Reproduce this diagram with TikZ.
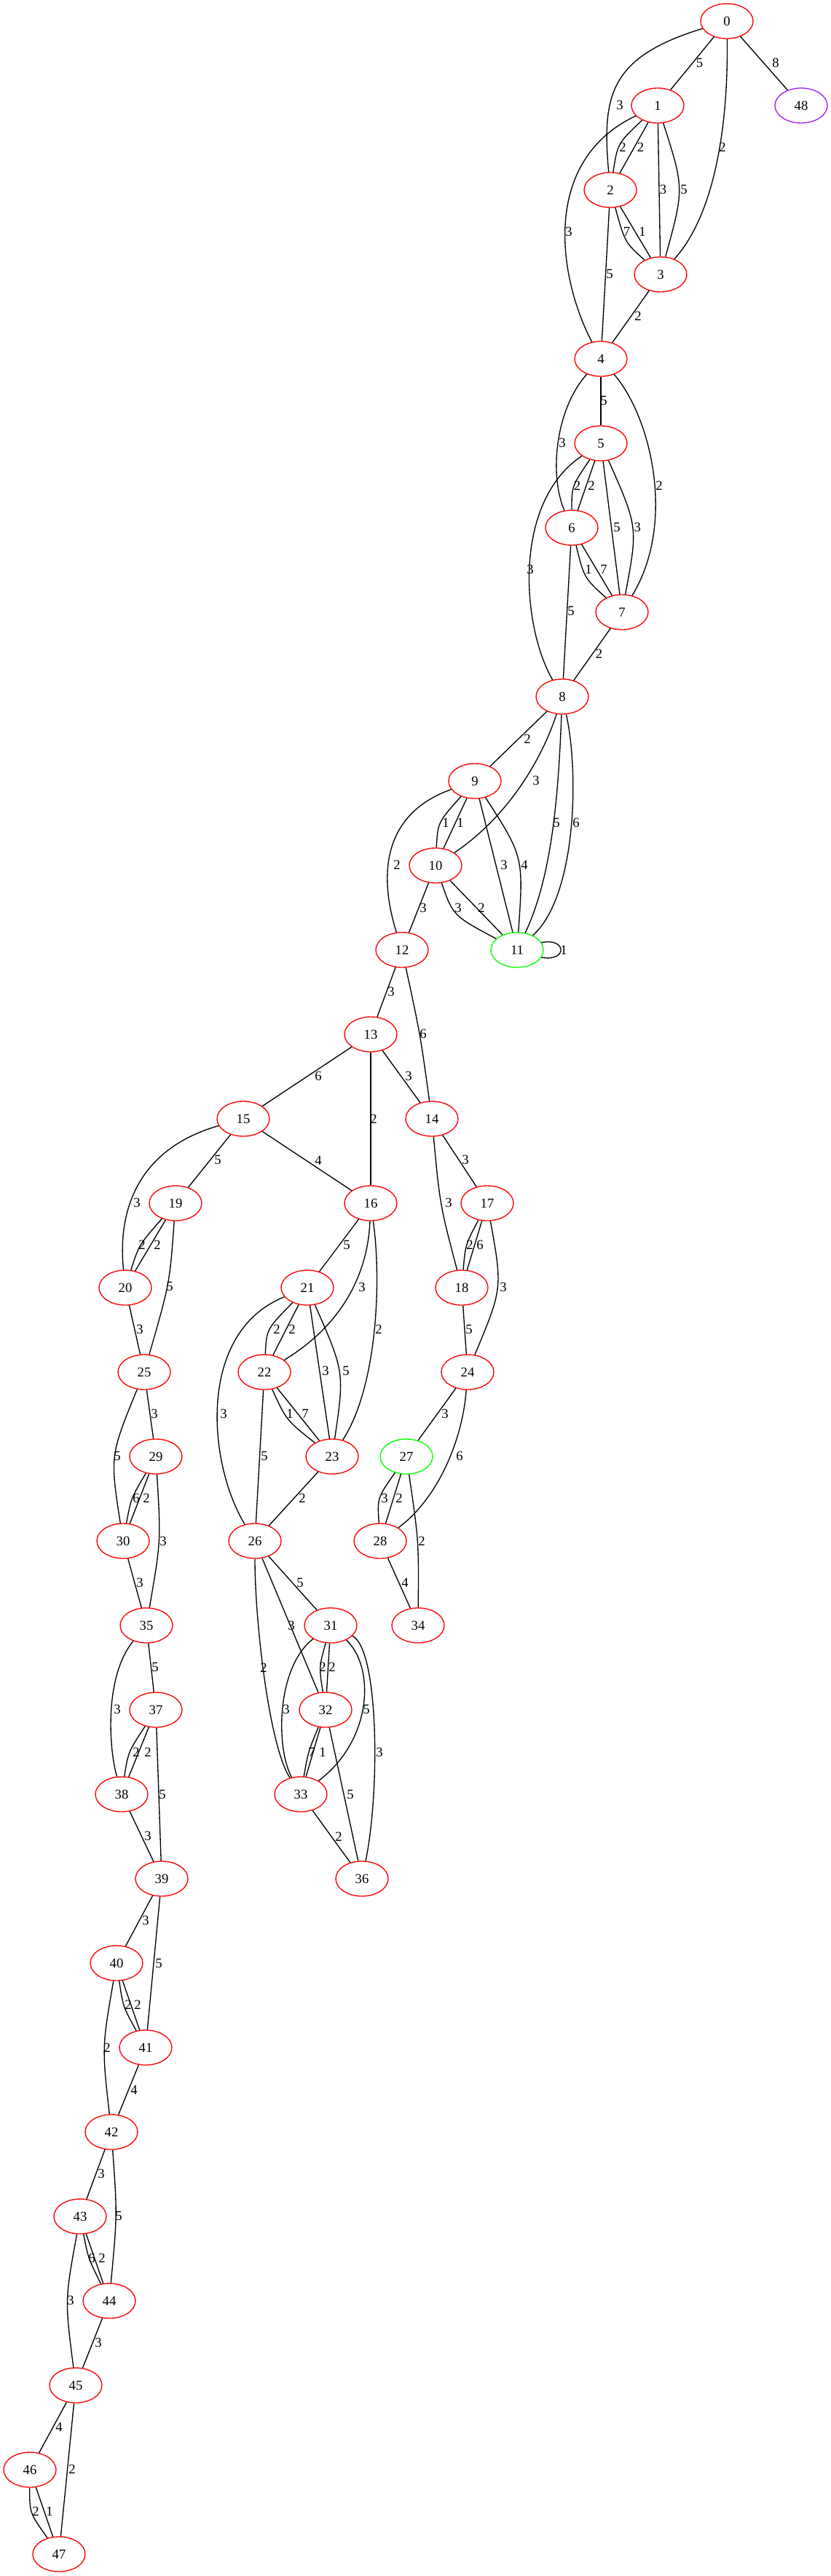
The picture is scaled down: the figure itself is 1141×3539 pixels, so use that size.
\documentclass[tikz,border=0pt]{standalone}
\usepackage{fontspec}
\setmainfont{Liberation Serif}
\usetikzlibrary{shapes.geometric}
\definecolor{gvred}{RGB}{255,0,0}
\definecolor{gvgreen}{RGB}{0,255,0}
\definecolor{gvpurple}{RGB}{160,32,240}
\begin{document}
\begin{tikzpicture}[x=0.75pt,y=-0.75pt,
  gn/.style={ellipse,draw=gvred,line width=1pt,minimum width=54pt,minimum height=36pt,inner sep=0pt,font=\fontsize{14}{16}\selectfont},
  gg/.style={gn,draw=gvgreen},
  gp/.style={gn,draw=gvpurple},
  con/.style={draw=black,line width=1pt},
  lab/.style={inner sep=0pt,font=\fontsize{14}{16}\selectfont}]
\useasboundingbox (0,0) rectangle (1141,3539);
% nodes
\node[gn] (n0) at (998,29) {0};
\node[gn] (n1) at (903,145) {1};
\node[gp] (n48) at (1100,145) {48};
\node[gn] (n2) at (838,261) {2};
\node[gn] (n3) at (907,377) {3};
\node[gn] (n4) at (825,493) {4};
\node[gn] (n5) at (825,609) {5};
\node[gn] (n6) at (785,725) {6};
\node[gn] (n7) at (854,841) {7};
\node[gn] (n8) at (772,957) {8};
\node[gn] (n9) at (652,1073) {9};
\node[gn] (n10) at (598,1189) {10};
\node[gg] (n11) at (710,1305) {11};
\node[gn] (n12) at (552,1305) {12};
\node[gn] (n13) at (509,1421) {13};
\node[gn] (n14) at (593,1537) {14};
\node[gn] (n15) at (334,1537) {15};
\node[gn] (n16) at (509,1653) {16};
\node[gn] (n17) at (669,1653) {17};
\node[gn] (n19) at (241,1653) {19};
\node[gn] (n18) at (634,1769) {18};
\node[gn] (n20) at (172,1769) {20};
\node[gn] (n21) at (422,1769) {21};
\node[gn] (n22) at (363,1885) {22};
\node[gn] (n24) at (642,1885) {24};
\node[gn] (n25) at (198,1885) {25};
\node[gn] (n23) at (456,2001) {23};
\node[gg] (n27) at (558,2001) {27};
\node[gn] (n29) at (214,2001) {29};
\node[gn] (n26) at (350,2117) {26};
\node[gn] (n28) at (522,2117) {28};
\node[gn] (n30) at (169,2117) {30};
\node[gn] (n31) at (454,2233) {31};
\node[gn] (n34) at (574,2233) {34};
\node[gn] (n35) at (201,2233) {35};
\node[gn] (n32) at (447,2349) {32};
\node[gn] (n37) at (214,2349) {37};
\node[gn] (n33) at (413,2465) {33};
\node[gn] (n38) at (167,2465) {38};
\node[gn] (n36) at (497,2581) {36};
\node[gn] (n39) at (222,2581) {39};
\node[gn] (n40) at (160,2697) {40};
\node[gn] (n41) at (200,2813) {41};
\node[gn] (n42) at (153,2929) {42};
\node[gn] (n43) at (110,3045) {43};
\node[gn] (n44) at (150,3161) {44};
\node[gn] (n45) at (104,3277) {45};
\node[gn] (n46) at (41,3393) {46};
\node[gn] (n47) at (81,3509) {47};
% edges
\draw[con] (n0) -- (n1) node[lab] (e1) at (960.6,86) {5};
\draw[con] (n0) -- (n48) node[lab] (e2) at (1065,86) {8};
\draw[con] (n0) .. controls (838,78) and (826,130) .. (n2) node[lab] (e3) at (851,144) {3};
\draw[con] (n0) .. controls (1000,160) and (985,290) .. (n3) node[lab] (e4) at (992,202) {2};
\draw[con] (n1) .. controls (848,197) .. (n2) node[lab] (e5) at (855,202) {2};
\draw[con] (n1) -- (n2) node[lab] (e6) at (879.5,202) {2};
\draw[con] (n1) -- (n3) node[lab] (e7) at (910.6,260) {3};
\draw[con] (n1) .. controls (939.5,259) .. (n3) node[lab] (e8) at (939,260) {5};
\draw[con] (n1) .. controls (740,222) and (768,385) .. (n4) node[lab] (e9) at (781,318) {3};
\draw[con] (n2) .. controls (858,333) .. (n3) node[lab] (e10) at (860.5,318) {7};
\draw[con] (n2) -- (n3) node[lab] (e11) at (882,318) {1};
\draw[con] (n2) -- (n4) node[lab] (e12) at (837,376) {5};
\draw[con] (n3) -- (n4) node[lab] (e13) at (876,434) {2};
\draw[con] (n4) -- (n5) node[lab] (e14) at (829,550) {5};
\draw[con] (n4) .. controls (764,560) and (753,650) .. (n6) node[lab] (e15) at (772,608) {3};
\draw[con] (n4) .. controls (895,575) and (928,720) .. (n7) node[lab] (e16) at (905,667) {2};
\draw[con] (n5) .. controls (785,668) .. (n6) node[lab] (e17) at (792.5,667) {2};
\draw[con] (n5) -- (n6) node[lab] (e18) at (812,667) {2};
\draw[con] (n5) -- (n7) node[lab] (e19) at (847,724) {5};
\draw[con] (n5) .. controls (876,724) .. (n7) node[lab] (e20) at (875.4,724) {3};
\draw[con] (n5) .. controls (703.5,690) and (716,860) .. (n8) node[lab] (e21) at (728,782) {3};
\draw[con] (n6) .. controls (802,794) .. (n7) node[lab] (e22) at (808,782) {1};
\draw[con] (n6) -- (n7) node[lab] (e23) at (829,782) {7};
\draw[con] (n6) -- (n8) node[lab] (e24) at (784,839) {5};
\draw[con] (n7) -- (n8) node[lab] (e25) at (822.6,898) {2};
\draw[con] (n8) -- (n9) node[lab] (e26) at (724,1015) {2};
\draw[con] (n8) .. controls (745,1040) and (700,1120) .. (n10) node[lab] (e27) at (736,1072) {3};
\draw[con] (n8) .. controls (767,1080) and (760,1200) .. (n11) node[lab] (e28) at (764,1130) {5};
\draw[con] (n8) .. controls (795,1060) and (792,1230) .. (n11) node[lab] (e29) at (791,1130) {6};
\draw[con] (n9) .. controls (601,1130) .. (n10) node[lab] (e30) at (612,1130) {1};
\draw[con] (n9) -- (n10) node[lab] (e31) at (632,1130) {1};
\draw[con] (n9) .. controls (520,1120) and (522,1210) .. (n12) node[lab] (e32) at (545,1188) {2};
\draw[con] (n9) -- (n11) node[lab] (e33) at (692,1188) {3};
\draw[con] (n9) .. controls (719,1177) .. (n11) node[lab] (e34) at (720,1188) {4};
\draw[con] (n10) -- (n12) node[lab] (e35) at (581,1247) {3};
\draw[con] (n10) .. controls (622,1258) .. (n11) node[lab] (e36) at (629,1247) {3};
\draw[con] (n10) -- (n11) node[lab] (e37) at (661,1247) {2};
\draw[con] (n11.17) .. controls (779,1288) and (779,1322) .. (n11.343) node[lab] (e38) at (774,1305) {1};
\draw[con] (n12) -- (n13) node[lab] (e39) at (537,1362) {3};
\draw[con] (n12) .. controls (577,1421) .. (n14) node[lab] (e40) at (581,1420) {6};
\draw[con] (n13) -- (n15) node[lab] (e41) at (437,1478) {6};
\draw[con] (n13) -- (n16) node[lab] (e42) at (513,1537) {2};
\draw[con] (n13) -- (n14) node[lab] (e43) at (561,1478) {3};
\draw[con] (n14) .. controls (604,1655) .. (n18) node[lab] (e44) at (616,1652) {3};
\draw[con] (n14) -- (n17) node[lab] (e45) at (639,1593) {3};
\draw[con] (n15) -- (n16) node[lab] (e46) at (437,1594) {4};
\draw[con] (n15) -- (n19) node[lab] (e47) at (299,1593) {5};
\draw[con] (n15) .. controls (200,1575) and (160,1650) .. (n20) node[lab] (e48) at (188,1652) {3};
\draw[con] (n16) -- (n21) node[lab] (e49) at (476,1710) {5};
\draw[con] (n16) .. controls (505,1750) and (470,1820) .. (n22) node[lab] (e50) at (497,1768) {3};
\draw[con] (n16) .. controls (524,1760) and (518,1905) .. (n23) node[lab] (e51) at (520,1826) {2};
\draw[con] (n17) .. controls (639,1710) .. (n18) node[lab] (e52) at (645,1710) {2};
\draw[con] (n17) -- (n18) node[lab] (e53) at (659,1710) {6};
\draw[con] (n17) .. controls (690,1770) .. (n24) node[lab] (e54) at (691,1768) {3};
\draw[con] (n18) -- (n24) node[lab] (e55) at (644,1826) {5};
\draw[con] (n19) .. controls (191,1710) .. (n20) node[lab] (e56) at (195,1710) {2};
\draw[con] (n19) -- (n20) node[lab] (e57) at (216,1710) {2};
\draw[con] (n19) .. controls (233,1763) .. (n25) node[lab] (e58) at (233,1767) {5};
\draw[con] (n20) -- (n25) node[lab] (e59) at (192,1826) {3};
\draw[con] (n21) .. controls (366,1826) .. (n22) node[lab] (e60) at (380,1826) {2};
\draw[con] (n21) -- (n22) node[lab] (e61) at (401,1826) {2};
\draw[con] (n21) .. controls (270,1830) and (285,2010) .. (n26) node[lab] (e62) at (307,1942) {3};
\draw[con] (n21) -- (n23) node[lab] (e63) at (447,1883) {3};
\draw[con] (n21) .. controls (473,1885) .. (n23) node[lab] (e64) at (475,1883) {5};
\draw[con] (n22) .. controls (393,1951) .. (n23) node[lab] (e65) at (398,1942) {1};
\draw[con] (n22) -- (n23) node[lab] (e66) at (419,1942) {7};
\draw[con] (n22) -- (n26) node[lab] (e67) at (363,2000) {5};
\draw[con] (n23) -- (n26) node[lab] (e68) at (415,2058) {2};
\draw[con] (n24) -- (n27) node[lab] (e69) at (611,1942) {3};
\draw[con] (n24) .. controls (635,1980) and (600,2060) .. (n28) node[lab] (e70) at (631,2000) {6};
\draw[con] (n25) .. controls (151,2000) .. (n30) node[lab] (e71) at (161,2000) {5};
\draw[con] (n25) -- (n29) node[lab] (e72) at (212,1942) {3};
\draw[con] (n29) .. controls (180,2058) .. (n30) node[lab] (e73) at (187,2058) {6};
\draw[con] (n29) -- (n30) node[lab] (e74) at (201,2058) {2};
\draw[con] (n29) .. controls (221,2117) .. (n35) node[lab] (e75) at (224,2117) {3};
\draw[con] (n30) -- (n35) node[lab] (e76) at (192,2174) {3};
\draw[con] (n27) .. controls (518,2058) .. (n28) node[lab] (e77) at (528,2058) {3};
\draw[con] (n27) -- (n28) node[lab] (e78) at (548,2058) {2};
\draw[con] (n27) .. controls (575,2117) .. (n34) node[lab] (e79) at (579,2117) {2};
\draw[con] (n28) -- (n34) node[lab] (e80) at (556,2174) {4};
\draw[con] (n26) -- (n31) node[lab] (e81) at (412,2174) {5};
\draw[con] (n26) -- (n32) node[lab] (e82) at (400,2233) {3};
\draw[con] (n26) .. controls (350,2230) and (370,2400) .. (n33) node[lab] (e83) at (362,2291) {2};
\draw[con] (n31) .. controls (438,2290) .. (n32) node[lab] (e84) at (443,2290) {2};
\draw[con] (n31) -- (n32) node[lab] (e85) at (456,2290) {2};
\draw[con] (n31) .. controls (380,2290) and (378,2400) .. (n33) node[lab] (e86) at (393,2348) {3};
\draw[con] (n31) .. controls (515,2290) and (512,2390) .. (n33) node[lab] (e87) at (503,2348) {5};
\draw[con] (n31) .. controls (520,2265) and (522,2460) .. (n36) node[lab] (e88) at (521,2407) {3};
\draw[con] (n32) .. controls (423,2407) .. (n33) node[lab] (e89) at (428,2407) {7};
\draw[con] (n32) -- (n33) node[lab] (e90) at (443,2407) {1};
\draw[con] (n32) -- (n36) node[lab] (e91) at (481,2465) {5};
\draw[con] (n33) -- (n36) node[lab] (e92) at (465,2523) {2};
\draw[con] (n35) -- (n37) node[lab] (e93) at (213,2290) {5};
\draw[con] (n35) .. controls (145,2300) and (148,2395) .. (n38) node[lab] (e94) at (161,2348) {3};
\draw[con] (n37) .. controls (176,2407) .. (n38) node[lab] (e95) at (187,2407) {2};
\draw[con] (n37) -- (n38) node[lab] (e96) at (203,2407) {2};
\draw[con] (n37) -- (n39) node[lab] (e97) at (223,2465) {5};
\draw[con] (n38) -- (n39) node[lab] (e98) at (203,2522) {3};
\draw[con] (n39) -- (n40) node[lab] (e99) at (200,2638) {3};
\draw[con] (n39) -- (n41) node[lab] (e100) at (218,2697) {5};
\draw[con] (n40) .. controls (169,2757) .. (n41) node[lab] (e101) at (176,2754) {2};
\draw[con] (n40) -- (n41) node[lab] (e102) at (189,2754) {2};
\draw[con] (n40) .. controls (140,2813) .. (n42) node[lab] (e103) at (147,2813) {2};
\draw[con] (n41) -- (n42) node[lab] (e104) at (184,2871) {4};
\draw[con] (n42) -- (n43) node[lab] (e105) at (139,2986) {3};
\draw[con] (n42) .. controls (161,3043) .. (n44) node[lab] (e106) at (163,3044) {5};
\draw[con] (n43) .. controls (121,3102) .. (n44) node[lab] (e107) at (126,3102) {6};
\draw[con] (n43) -- (n44) node[lab] (e108) at (140,3102) {2};
\draw[con] (n43) .. controls (89,3160) .. (n45) node[lab] (e109) at (97,3160) {3};
\draw[con] (n44) -- (n45) node[lab] (e110) at (135,3218) {3};
\draw[con] (n45) -- (n46) node[lab] (e111) at (81,3334) {4};
\draw[con] (n45) -- (n47) node[lab] (e112) at (99,3392) {2};
\draw[con] (n46) .. controls (40.5,3452) .. (n47) node[lab] (e113) at (49,3450) {2};
\draw[con] (n46) -- (n47) node[lab] (e114) at (68,3450) {1};
\end{tikzpicture}
\end{document}
